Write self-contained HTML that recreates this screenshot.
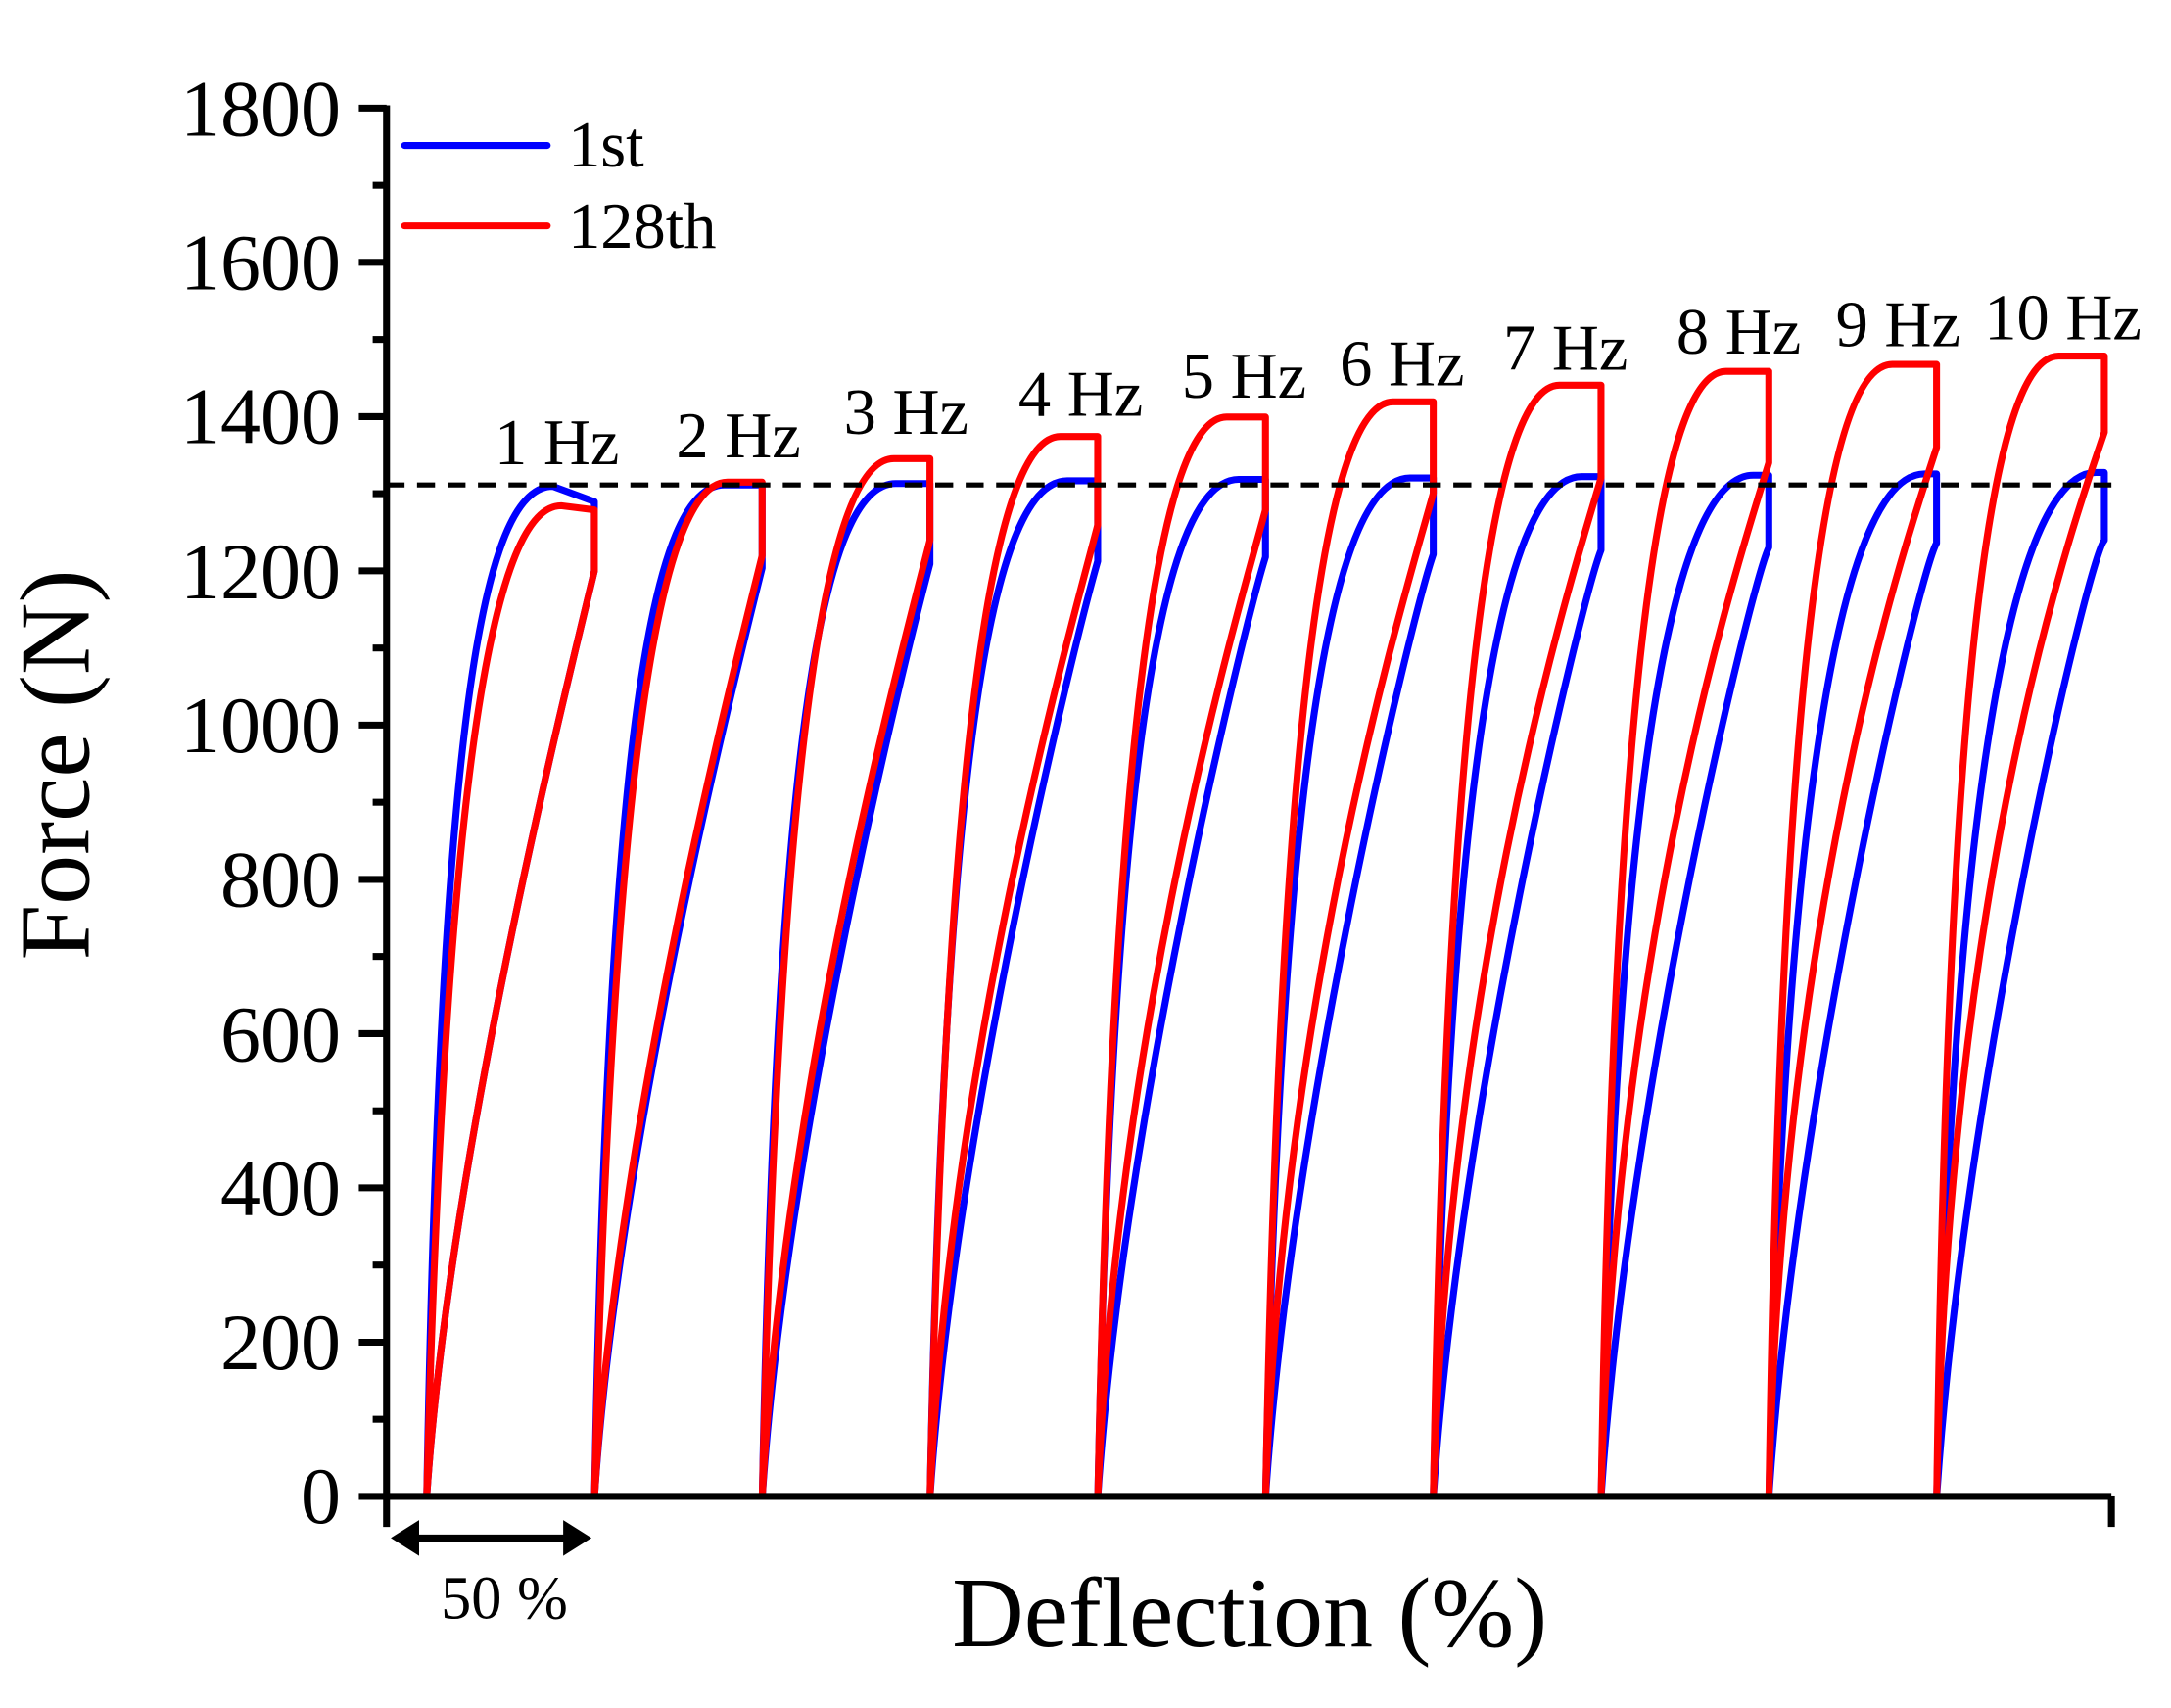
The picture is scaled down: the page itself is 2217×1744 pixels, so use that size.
<!DOCTYPE html>
<html><head><meta charset="utf-8"><style>
html,body{margin:0;padding:0;background:#fff;}
svg{display:block;}
text{font-family:"Liberation Serif",serif;fill:#000;}
</style></head><body>
<svg width="2217" height="1744" viewBox="0 0 1567 1232.7" xmlns="http://www.w3.org/2000/svg">
<rect width="1570" height="1240" fill="#fff"/>
<g fill="none" stroke-width="5" stroke-linejoin="round" stroke-linecap="round">
<g stroke="#0000ff">
<path transform="translate(308,1080)" d="M0,0 C10,-560 40,-729 91,-729 L121,-718 L121,-668 C100,-580 17,-250 0,0"/>
<path transform="translate(429.1,1080)" d="M0,0 C10.2,-558 42.2,-730 93.7,-730 L121,-730 L121,-670 C101.1,-591 17.3,-256 0,0"/>
<path transform="translate(550.2,1080)" d="M0,0 C10.4,-556 44.4,-731 96.3,-731 L121,-731 L121,-673 C102.2,-602 17.7,-261 0,0"/>
<path transform="translate(671.3,1080)" d="M0,0 C10.7,-553 46.7,-733 99,-733 L121,-733 L121,-675 C103.3,-613 18,-267 0,0"/>
<path transform="translate(792.4,1080)" d="M0,0 C10.9,-551 48.9,-734 101.7,-734 L121,-734 L121,-678 C104.4,-624 18.3,-272 0,0"/>
<path transform="translate(913.5,1080)" d="M0,0 C11.1,-549 51.1,-735 104.3,-735 L121,-735 L121,-680 C105.5,-635 18.7,-278 0,0"/>
<path transform="translate(1034.6,1080)" d="M0,0 C11.3,-547 53.3,-736 107,-736 L121,-736 L121,-683 C106.6,-646 19,-284 0,0"/>
<path transform="translate(1155.7,1080)" d="M0,0 C11.6,-545 55.6,-737 109.7,-737 L121,-737 L121,-685 C107.7,-657 19.3,-289 0,0"/>
<path transform="translate(1276.8,1080)" d="M0,0 C11.8,-542 57.8,-738 112.3,-738 L121,-738 L121,-688 C108.8,-668 19.7,-295 0,0"/>
<path transform="translate(1397.9,1080)" d="M0,0 C12,-540 60,-739 115,-739 L121,-739 L121,-690 C110,-680 20,-300 0,0"/>
</g>
<g stroke="#ff0000">
<path transform="translate(308,1080)" d="M0,0 C14,-540 50,-715 97,-715 L121,-712 L121,-668 C100,-580 17,-250 0,0"/>
<path transform="translate(429.1,1080)" d="M0,0 C13.3,-547 48.9,-732 96,-732 L121,-732 L121,-679 C100.6,-596 16.9,-273 0,0"/>
<path transform="translate(550.2,1080)" d="M0,0 C12.7,-553 47.8,-749 95,-749 L121,-749 L121,-690 C101.1,-611 15.8,-297 0,0"/>
<path transform="translate(671.3,1080)" d="M0,0 C12,-560 46.7,-765 94,-765 L121,-765 L121,-701 C101.7,-627 14.7,-320 0,0"/>
<path transform="translate(792.4,1080)" d="M0,0 C11.3,-567 45.6,-779 93,-779 L121,-779 L121,-712 C102.2,-642 13.6,-343 0,0"/>
<path transform="translate(913.5,1080)" d="M0,0 C10.7,-573 44.4,-790 92,-790 L121,-790 L121,-724 C102.8,-658 12.4,-367 0,0"/>
<path transform="translate(1034.6,1080)" d="M0,0 C10,-580 43.3,-802 91,-802 L121,-802 L121,-735 C103.3,-674 11.3,-390 0,0"/>
<path transform="translate(1155.7,1080)" d="M0,0 C9.3,-587 42.2,-812 90,-812 L121,-812 L121,-746 C103.9,-689 10.2,-413 0,0"/>
<path transform="translate(1276.8,1080)" d="M0,0 C8.7,-593 41.1,-817 89,-817 L121,-817 L121,-757 C104.4,-705 9.1,-437 0,0"/>
<path transform="translate(1397.9,1080)" d="M0,0 C8,-600 40,-823 88,-823 L121,-823 L121,-768 C105,-720 8,-460 0,0"/>
</g>
</g>
<line x1="279" y1="350" x2="1524" y2="350" stroke="#000" stroke-width="3.6" stroke-dasharray="13,9"/>
<g stroke="#000" stroke-width="5" fill="none">
<line x1="279" y1="76" x2="279" y2="1102"/>
<line x1="259" y1="1080" x2="1524" y2="1080"/>
<line x1="1524" y1="1080" x2="1524" y2="1102"/>
<line x1="259" y1="78" x2="279" y2="78"/><line x1="269" y1="133.7" x2="279" y2="133.7"/>
<line x1="259" y1="189.3" x2="279" y2="189.3"/><line x1="269" y1="245" x2="279" y2="245"/>
<line x1="259" y1="300.7" x2="279" y2="300.7"/><line x1="269" y1="356.3" x2="279" y2="356.3"/>
<line x1="259" y1="412" x2="279" y2="412"/><line x1="269" y1="467.7" x2="279" y2="467.7"/>
<line x1="259" y1="523.3" x2="279" y2="523.3"/><line x1="269" y1="579" x2="279" y2="579"/>
<line x1="259" y1="634.7" x2="279" y2="634.7"/><line x1="269" y1="690.3" x2="279" y2="690.3"/>
<line x1="259" y1="746" x2="279" y2="746"/><line x1="269" y1="801.7" x2="279" y2="801.7"/>
<line x1="259" y1="857.3" x2="279" y2="857.3"/><line x1="269" y1="913" x2="279" y2="913"/>
<line x1="259" y1="968.7" x2="279" y2="968.7"/><line x1="269" y1="1024.3" x2="279" y2="1024.3"/>
</g>
<g font-size="58" text-anchor="end">
<text x="246" y="98">1800</text><text x="246" y="209">1600</text><text x="246" y="320">1400</text>
<text x="246" y="432">1200</text><text x="246" y="543">1000</text><text x="246" y="654">800</text>
<text x="246" y="766">600</text><text x="246" y="877">400</text><text x="246" y="988">200</text>
<text x="246" y="1099">0</text>
</g>
<text transform="translate(64,552) rotate(-90)" font-size="72" text-anchor="middle">Force (N)</text>
<text x="902" y="1188" font-size="72" text-anchor="middle">Deflection (%)</text>
<text x="364" y="1168" font-size="44" text-anchor="middle">50 %</text>
<g fill="#000" stroke="#000">
<line x1="296" y1="1110" x2="412" y2="1110" stroke-width="5"/>
<polygon points="283,1110 302,1098 302,1122"/>
<polygon points="426,1110 407,1098 407,1122"/>
</g>
<line x1="292" y1="105" x2="395" y2="105" stroke="#0000ff" stroke-width="5" stroke-linecap="round"/>
<line x1="292" y1="163" x2="395" y2="163" stroke="#ff0000" stroke-width="5" stroke-linecap="round"/>
<text x="410" y="120" font-size="47">1st</text>
<text x="410" y="179" font-size="47">128th</text>
<g font-size="47" text-anchor="middle">
<text x="402" y="335">1 Hz</text><text x="533" y="330">2 Hz</text><text x="654" y="313">3 Hz</text>
<text x="780" y="300">4 Hz</text><text x="898" y="287">5 Hz</text><text x="1012" y="278">6 Hz</text>
<text x="1130" y="267">7 Hz</text><text x="1255" y="255">8 Hz</text><text x="1370" y="250">9 Hz</text>
<text x="1489" y="245">10 Hz</text>
</g>
</svg>
</body></html>
